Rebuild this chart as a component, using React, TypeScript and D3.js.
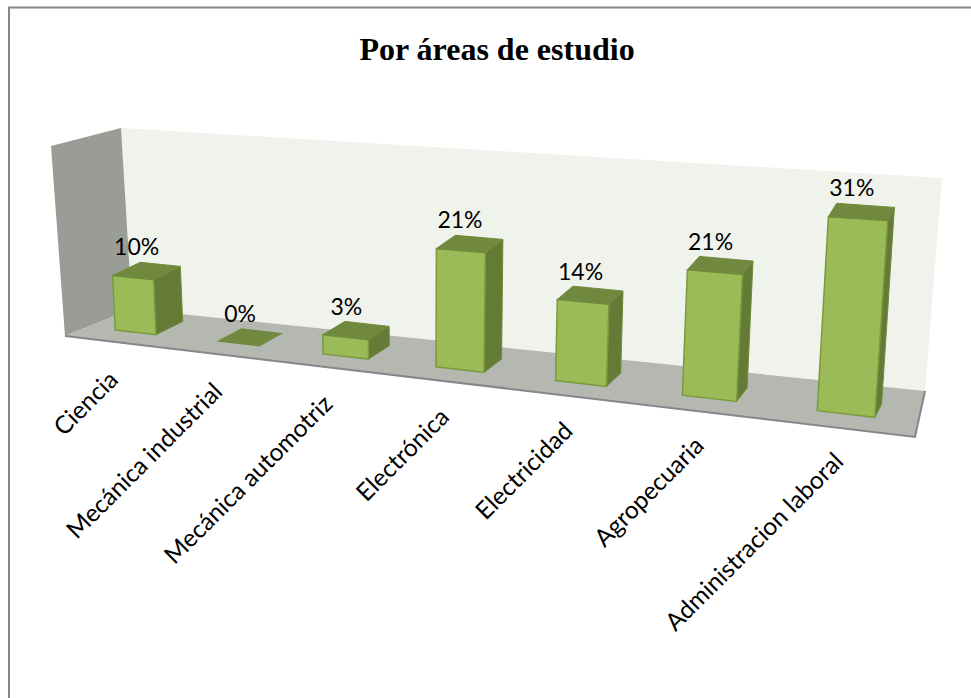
import React from "react";
import * as d3 from "d3";

const categories = ["Ciencia","Mecánica industrial","Mecánica automotriz","Electrónica","Electricidad","Agropecuaria","Administracion laboral"];
const percentages = [10.34,0,3.45,20.69,13.79,20.69,31.03];
const title = "Por áreas de estudio";

const barWidth = 0.409;
const persp = d3.scaleLinear().domain([0,6]).range([1,0.8411]);
const baseX = d3.scaleLinear().domain([0,6]).range([115.3,687.4]);
const baseY = d3.scaleLinear().domain([0,6]).range([330,345.4]);
const depthDx = d3.scaleLinear().domain([156,874]).range([26.7,6.7]);
const leanDx = d3.scaleLinear().domain([115,817]).range([-0.27,0.36]);
const labelDx = d3.scaleLinear().domain([135,846]).range([-16,-1]);
const unitDy = 5.26;
const depthDy = -13.3;
const fmt = d3.format(".0f");

type P = [number,number];
function project(X:number,D:number,V:number):P{
  const w=persp(X);
  const bx=baseX(X)/w, by=baseY(X)/w;
  const x=bx+depthDx(bx)*D+leanDx(bx)*V;
  const y=by+depthDy*D-unitDy*V/w;
  return [x,y];
}
const poly=(pts:P[])=>pts.map(p=>p.map(n=>n.toFixed(1)).join(",")).join(" ");

export default function App(){
  return (
    <svg width={971} height={698} style={{position:"absolute",left:0,top:0,background:"#fff"}}>
      <path d="M9,698 V7.5 H971" fill="none" stroke="#868686" strokeWidth={2}/>
      <text x={497} y={60} textAnchor="middle" fontFamily="'Liberation Serif'" fontWeight="bold" fontSize={32} fill="#000">{title}</text>
      <polygon points="121,128 942,178 925,391 132,309" fill="#f0f3ec"/>
      <polygon points="51,146 121,128 132,309 65,336" fill="#9a9c96"/>
      <polygon points="65,336 132,309 925,391 915,437" fill="#b5b7b1"/>
      <polyline points="65,336 915,437 925,391" fill="none" stroke="#86878a" strokeWidth={2}/>
      {categories.map((c,i)=>{
        const v=percentages[i];
        const l=i,r=i+barWidth;
        const ft=[project(l,0,v),project(r,0,v)];
        const fb=[project(l,0,0),project(r,0,0)];
        const bt=[project(l,1,v),project(r,1,v)];
        const bb=project(r,1,0);
        const cx=d3.mean([ft[0][0],ft[1][0],bt[0][0],bt[1][0]])!;
        const by=(bt[0][1]+bt[1][1])/2;
        const bc=project(i+barWidth/2,0,0);
        return <g key={c}>
          {v>0&&<polygon points={poly([ft[1],bt[1],bb,fb[1]])} fill="#647b36" stroke="#6f8b3a" strokeWidth={1}/>}
          {v>0&&<polygon points={poly([ft[0],ft[1],fb[1],fb[0]])} fill="#9bbb59" stroke="#7a9b3c" strokeWidth={1.5}/>}
          <polygon points={poly([ft[0],ft[1],bt[1],bt[0]])} fill="#71893f" stroke={v>0?"#6f8b3a":"none"} strokeWidth={1}/>
          <text x={cx-10} y={by-9} textAnchor="middle" fontFamily="Lato" fontSize={23} fill="#000">{fmt(v)}%</text>
          <text transform={`translate(${bc[0]+labelDx(bc[0])},${bc[1]+49}) rotate(-45)`} textAnchor="end" fontFamily="Lato" fontSize={24.5} fill="#000">{c}</text>
        </g>;
      })}
    </svg>
  );
}
